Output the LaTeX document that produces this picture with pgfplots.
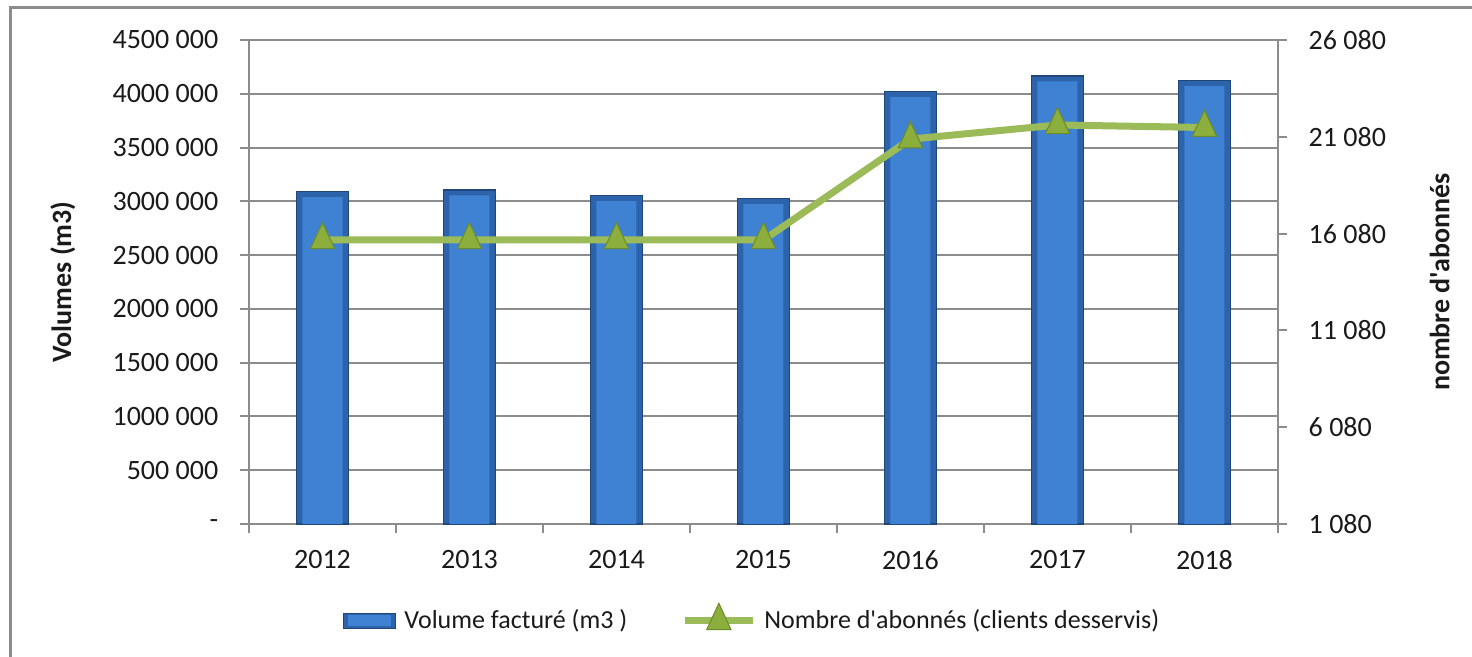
\documentclass[border=0pt]{standalone}
\usepackage{fontspec}
\setmainfont{Carlito}[Ligatures=TeXOff]
\usepackage{pgfplots}
\pgfplotsset{compat=1.18}
\definecolor{barmid}{HTML}{3F82D4}
\definecolor{baredge}{HTML}{2D63AB}
\definecolor{barline}{HTML}{1F4778}
\definecolor{linegreen}{HTML}{9BBB59}
\definecolor{markfill}{HTML}{8CAE3C}
\definecolor{markedge}{HTML}{6C8A2A}
\definecolor{gridgray}{HTML}{8C8C8C}
\definecolor{txt}{HTML}{1A1A1A}
\pgfplotsset{
  mylineleg/.style={legend image code/.code={\draw[mark repeat=2, mark phase=2, ##1] plot coordinates {(0pt,0pt) (17pt,0pt) (34pt,0pt)};}},
  mybarleg/.style={legend image code/.code={\draw[draw=barline, line width=0.6pt, fill=baredge] (0pt,-3.75pt) rectangle (26pt,3.75pt); \fill[barmid] (2.5pt,-2.5pt) rectangle (23.5pt,2.5pt);}},
}
\begin{document}
\fontsize{14}{17}\selectfont
\begin{tikzpicture}[x=1pt,y=1pt]
\useasboundingbox (0,0) rectangle (736,328.5);
\draw[gridgray, line width=1.5pt] (5,-2) -- (5,324.5) -- (740,324.5);
\begin{axis}[
  at={(124.5pt,66.5pt)}, anchor=south west,
  scale only axis, width=514.5pt, height=242pt,
  xmin=-0.5, xmax=6.5, ymin=0, ymax=4500000,
  scaled y ticks=false,
  axis x line*=bottom, axis y line*=left,
  axis line style={gridgray, line width=1pt},
  xtick={0,...,6},
  xticklabels={2012,2013,2014,2015,2016,2017,2018},
  major x tick style={draw=none},
  minor xtick={-0.5,0.5,...,6.5},
  minor x tick style={gridgray, line width=1pt},
  minor tick length=4.5pt,
  ytick={0,500000,...,4500000},
  yticklabels={-,500 000,1000 000,1500 000,2000 000,2500 000,3000 000,3500 000,4000 000,4500 000},
  ytick style={gridgray, line width=1pt},
  major tick length=4.5pt,
  tick align=outside,
  ymajorgrids, grid style={gridgray, line width=1pt},
  /pgf/number format/assume math mode=true,
  ticklabel style={font=\fontsize{14}{17}\selectfont, text=txt},
  xticklabel style={yshift=-4pt},
  yticklabel style={xshift=-6pt},
  ylabel={\bfseries Volumes (m3)},
  ylabel style={at={(axis description cs:-0.181,0.5)}, anchor=center, font=\fontsize{14}{17}\selectfont, text=txt},
  clip=false,
]
\addplot[ybar, bar shift=0pt, bar width=26pt, draw=barline, line width=0.6pt, fill=baredge]
  coordinates {(0,3090000) (1,3105000) (2,3052000) (3,3024000) (4,4019000) (5,4165000) (6,4122000)};
\addplot[ybar, bar shift=0pt, bar width=20pt, draw=none, fill=barmid]
  coordinates {(0,3040000) (1,3055000) (2,3002000) (3,2974000) (4,3969000) (5,4115000) (6,4072000)};
\end{axis}
\begin{axis}[
  at={(124.5pt,66.5pt)}, anchor=south west,
  scale only axis, width=514.5pt, height=242pt,
  xmin=-0.5, xmax=6.5, ymin=1080, ymax=26080,
  scaled y ticks=false,
  axis x line=none, axis y line*=right,
  axis line style={gridgray, line width=1pt},
  ytick={1080,6080,11080,16080,21080,26080},
  yticklabels={1 080,6 080,11 080,16 080,21 080,26 080},
  ytick style={gridgray, line width=1pt},
  major tick length=4.5pt,
  tick align=outside,
  /pgf/number format/assume math mode=true,
  ticklabel style={font=\fontsize{14}{17}\selectfont, text=txt},
  yticklabel style={xshift=6pt},
  ylabel={\bfseries nombre d'abonnés},
  ylabel style={at={(axis description cs:1.157,0.5)}, anchor=center, rotate=0, font=\fontsize{14}{17}\selectfont, text=txt},
  clip=false,
  legend columns=2,
  legend style={at={(0.49,-0.198)}, anchor=center, draw=none, fill=none,
    font=\fontsize{13}{16}\selectfont, text=txt,
    /tikz/every odd column/.append style={column sep=2pt},
    /tikz/every even column/.append style={column sep=25pt}},
]
\addlegendimage{mybarleg}
\addlegendentry{Volume facturé (m3 )}
\addplot[linegreen, line width=3.5pt, mark=triangle*, mark size=7pt,
  mark options={fill=markfill, draw=markedge, line width=0.5pt, yscale=1.25}, mylineleg]
  coordinates {(0,15750) (1,15750) (2,15750) (3,15750) (4,20960) (5,21690) (6,21560)};
\addlegendentry{Nombre d'abonnés (clients desservis)}
\end{axis}
\end{tikzpicture}
\end{document}
